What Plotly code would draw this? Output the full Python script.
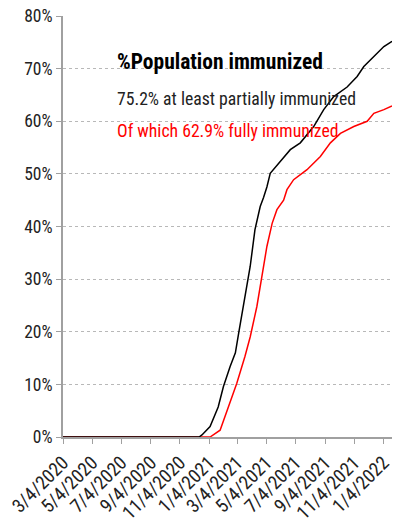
import plotly.graph_objects as go

# At least partially immunized (% of population)
dates_partial = ["2020-03-04", "2020-12-14", "2020-12-20", "2021-01-06", "2021-01-23", "2021-02-03",
                 "2021-02-17", "2021-02-28", "2021-03-07", "2021-03-14", "2021-03-24", "2021-03-31",
                 "2021-04-10", "2021-04-21", "2021-04-28", "2021-05-05", "2021-05-12", "2021-05-30",
                 "2021-06-23", "2021-07-14", "2021-08-11", "2021-09-01", "2021-09-22", "2021-10-20",
                 "2021-11-10", "2021-11-24", "2021-12-15", "2022-01-05", "2022-01-22"]
pct_partial = [0, 0, 0.4, 2.0, 5.7, 9.6,
               13.4, 16.0, 19.8, 23.6, 28.6, 32.4,
               39.4, 43.8, 45.5, 47.5, 50.1, 52.0,
               54.6, 55.9, 59.0, 62.2, 64.7, 66.5,
               68.5, 70.4, 72.3, 74.2, 75.2]

# Fully immunized (% of population)
dates_full = ["2020-03-04", "2021-01-06", "2021-01-27", "2021-02-13", "2021-03-03", "2021-03-20",
              "2021-03-31", "2021-04-14", "2021-04-25", "2021-05-05", "2021-05-16", "2021-05-26",
              "2021-06-09", "2021-06-16", "2021-06-30", "2021-07-28", "2021-08-25", "2021-09-15",
              "2021-10-06", "2021-11-03", "2021-12-01", "2021-12-15", "2022-01-05", "2022-01-22"]
pct_full = [0, 0, 1.3, 5.7, 10.2, 15.3,
            19.0, 24.8, 31.2, 36.2, 40.6, 43.2,
            45.0, 47.0, 48.9, 50.8, 53.3, 55.9,
            57.7, 59.0, 60.0, 61.5, 62.2, 62.9]

tick_dates = ["2020-03-04", "2020-05-04", "2020-07-04", "2020-09-04", "2020-11-04", "2021-01-04",
              "2021-03-04", "2021-05-04", "2021-07-04", "2021-09-04", "2021-11-04", "2022-01-04"]
tick_labels = ["3/4/2020", "5/4/2020", "7/4/2020", "9/4/2020", "11/4/2020", "1/4/2021",
               "3/4/2021", "5/4/2021", "7/4/2021", "9/4/2021", "11/4/2021", "1/4/2022"]
y_ticks = [0, 10, 20, 30, 40, 50, 60, 70, 80]
y_labels = ["0%", "10%", "20%", "30%", "40%", "50%", "60%", "70%", "80%"]

title_text = "%Population immunized"
line2_text = "75.2% at least partially immunized"
line3_text = "Of which 62.9% fully immunized"

FONT = "Roboto Condensed, DejaVu Sans Condensed, sans-serif"

fig = go.Figure()
fig.add_trace(go.Scatter(x=dates_full, y=pct_full, mode="lines",
                         line=dict(color="#ff0000", width=1.5), showlegend=False))
fig.add_trace(go.Scatter(x=dates_partial, y=pct_partial, mode="lines",
                         line=dict(color="#000000", width=1.5), showlegend=False))

fig.update_layout(
    width=401, height=521,
    margin=dict(l=63, r=9, t=16, b=84),
    paper_bgcolor="white", plot_bgcolor="white",
    font=dict(family=FONT, color="#222222"),
    showlegend=False,
)
fig.update_xaxes(
    type="date", range=["2020-03-04", "2022-01-22"], automargin=False,
    ticklabeloverflow="allow",
    tickmode="array", tickvals=tick_dates, ticktext=tick_labels,
    tickangle=-45, tickfont=dict(size=19, family=FONT, color="#222222"),
    showgrid=False, showline=True, linecolor="#a0a0a0", linewidth=2,
    ticks="outside", ticklen=5, tickcolor="#a0a0a0", tickwidth=1,
    zeroline=False,
)
fig.update_yaxes(
    range=[0, 80], automargin=False, ticklabeloverflow="allow",
    tickmode="array", tickvals=y_ticks, ticktext=y_labels,
    tickfont=dict(size=17.5, family=FONT, color="#222222"),
    showgrid=True, gridcolor="#b8b8b8", griddash="dot", gridwidth=1,
    showline=True, linecolor="#a0a0a0", linewidth=2,
    ticks="outside", ticklen=5, tickcolor="#a0a0a0",
    zeroline=False,
)

fig.add_annotation(x=0.158, y=0.893, xref="paper", yref="paper", xanchor="left", yanchor="middle",
                   text="<b>" + title_text + "</b>", showarrow=False,
                   font=dict(size=21.5, family=FONT, color="#000000"))
fig.add_annotation(x=0.158, y=0.802, xref="paper", yref="paper", xanchor="left", yanchor="middle",
                   text=line2_text, showarrow=False,
                   font=dict(size=17.7, family=FONT, color="#222222"))
fig.add_annotation(x=0.158, y=0.726, xref="paper", yref="paper", xanchor="left", yanchor="middle",
                   text=line3_text, showarrow=False,
                   font=dict(size=17.7, family=FONT, color="#ff0000"))

fig.write_html("out.html", config={"displayModeBar": False},
               post_script="document.body.style.margin='0px';")
